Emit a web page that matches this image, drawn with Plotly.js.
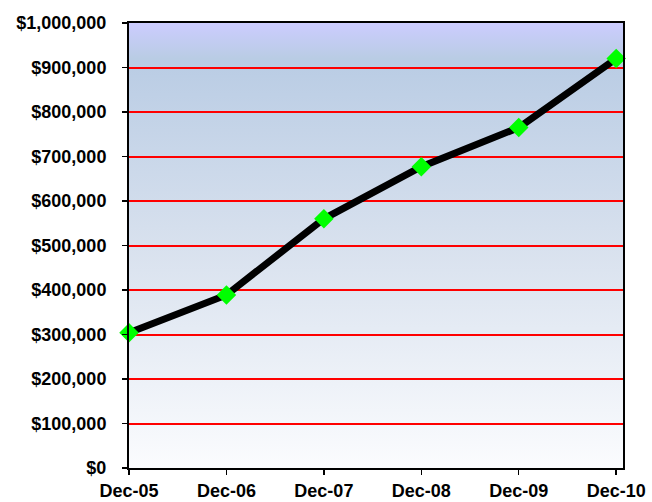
<!DOCTYPE html>
<html>
<head>
<meta charset="utf-8">
<script src="https://cdn.plot.ly/plotly-3.0.1.min.js"></script>
<style>html,body{margin:0;padding:0;background:#fff;}#chart{width:652px;height:502px;}</style>
</head>
<body>
<div id="chart"></div>
<script>
var categories = ["Dec-05", "Dec-06", "Dec-07", "Dec-08", "Dec-09", "Dec-10"];
var values = [304000, 389000, 560000, 677000, 765000, 920000];
var yTickVals = [0, 100000, 200000, 300000, 400000, 500000, 600000, 700000, 800000, 900000, 1000000];
var yTickText = ["$0", "$100,000", "$200,000", "$300,000", "$400,000", "$500,000", "$600,000", "$700,000", "$800,000", "$900,000", "$1,000,000"];

var svg = '<svg xmlns="http://www.w3.org/2000/svg" width="100" height="100" preserveAspectRatio="none">' +
  '<defs><linearGradient id="g" x1="0" y1="0" x2="0" y2="1">' +
  '<stop offset="0" stop-color="#ccccff"/>' +
  '<stop offset="0.08" stop-color="#b9cce4"/>' +
  '<stop offset="0.5" stop-color="#d8e1ee"/>' +
  '<stop offset="1" stop-color="#fbfcfe"/>' +
  '</linearGradient></defs><rect width="100" height="100" fill="url(#g)"/></svg>';
var bg = 'data:image/svg+xml;base64,' + btoa(svg);

var trace = {
  x: categories,
  y: values,
  type: 'scatter',
  mode: 'lines+markers',
  line: {color: '#000000', width: 7},
  marker: {symbol: 'diamond', size: 15, color: '#00ff00', line: {width: 0}},
  cliponaxis: false,
  hoverinfo: 'none'
};

var fontFam = 'Liberation Sans, Arial, sans-serif';
var layout = {
  width: 652, height: 502,
  margin: {l: 129, r: 29, t: 23, b: 34, pad: 0},
  paper_bgcolor: '#ffffff',
  plot_bgcolor: 'rgba(0,0,0,0)',
  showlegend: false,
  images: [{source: bg, xref: 'paper', yref: 'paper', x: 0, y: 1, sizex: 1, sizey: 1,
            sizing: 'stretch', layer: 'below', xanchor: 'left', yanchor: 'top'}],
  xaxis: {
    type: 'category',
    range: [0, 5.07],
    showgrid: false,
    zeroline: false,
    showline: true, linecolor: '#000000', linewidth: 2, mirror: true,
    ticks: 'outside', ticklen: 5, tickwidth: 1.5, tickcolor: '#000000',
    tickfont: {family: fontFam, size: 18, color: '#000000', weight: 'bold'},
    fixedrange: true
  },
  yaxis: {
    range: [0, 1000000],
    tickmode: 'array',
    tickvals: yTickVals,
    ticktext: yTickText,
    showgrid: true, gridcolor: '#ff0000', gridwidth: 2,
    zeroline: false,
    showline: true, linecolor: '#000000', linewidth: 2, mirror: true,
    ticks: 'outside', ticklen: 5, tickwidth: 1.5, tickcolor: '#000000',
    ticklabelstandoff: 12,
    tickfont: {family: fontFam, size: 18, color: '#000000', weight: 'bold'},
    fixedrange: true
  }
};

Plotly.newPlot('chart', [trace], layout, {displayModeBar: false, staticPlot: true});
</script>
</body>
</html>
